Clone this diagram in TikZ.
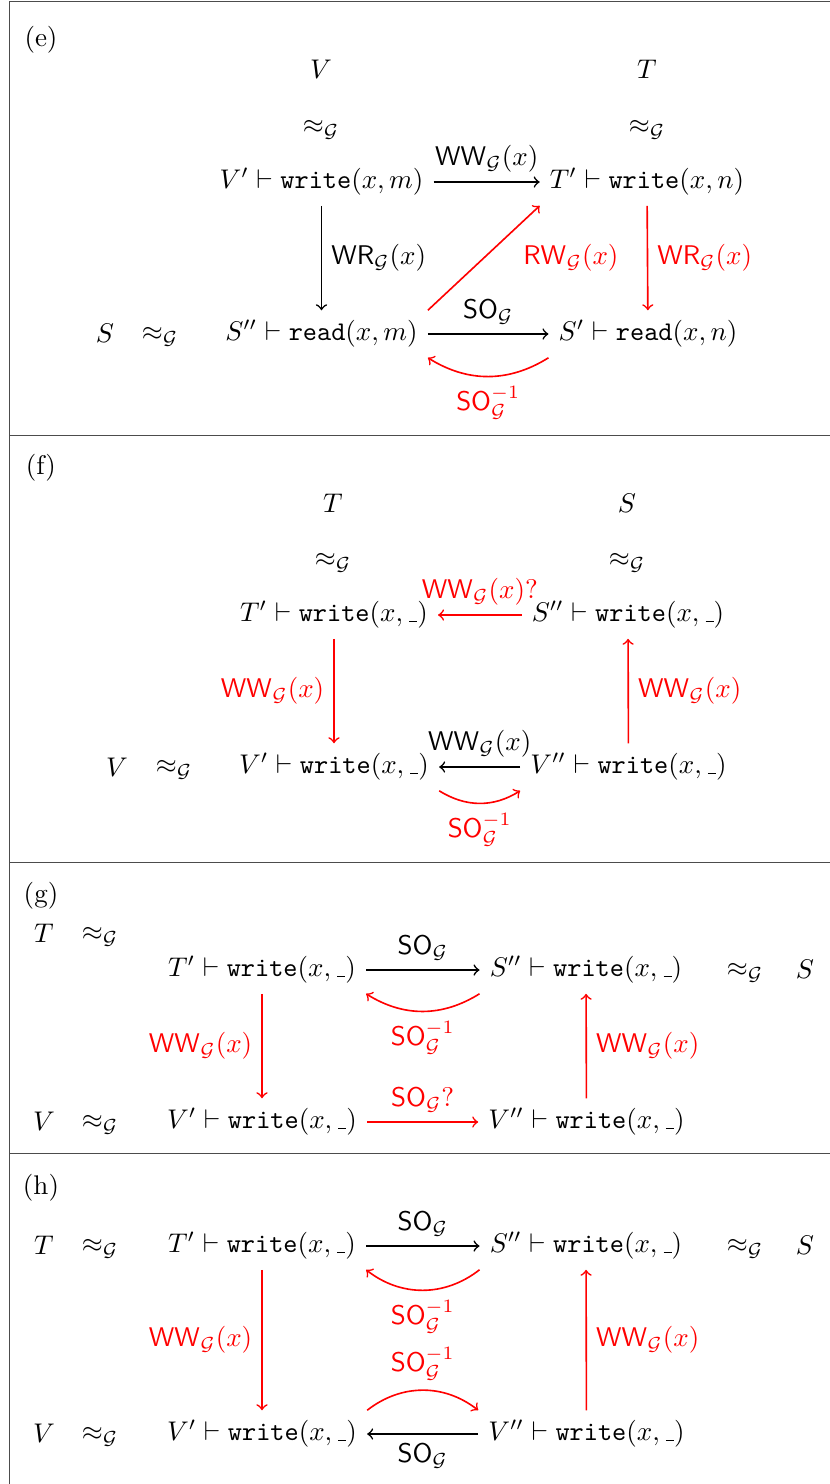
\documentclass[tikz,border=0pt]{standalone}
\usepackage{amsmath,amssymb}
\newcommand{\cG}{\mathcal{G}}
\newcommand{\mWW}{\mathsf{WW}_{\cG}(x)}
\newcommand{\mWR}{\mathsf{WR}_{\cG}(x)}
\newcommand{\mRW}{\mathsf{RW}_{\cG}(x)}
\newcommand{\mSO}{\mathsf{SO}_{\cG}}
\newcommand{\mSOi}{\mathsf{SO}_{\cG}^{-1}}
\newcommand{\us}{\mbox{\kern.06em\vbox{\hrule width.3em}}}
\newcommand{\wrt}[2]{#1\vdash\texttt{write}(x,#2)}
\newcommand{\rdt}[2]{#1\vdash\texttt{read}(x,#2)}
\tikzset{
  cell/.style={inner sep=3.6pt, text height=7.5pt, text depth=2.5pt},
  lbl/.style={inner sep=3.33pt},
  arr/.style={->, line width=0.6pt},
  rarr/.style={arr, red},
  frame/.style={line width=0.45pt, black!70},
}
\begin{document}
\begin{tikzpicture}[x=0.37037pt,y=-0.37037pt]
\useasboundingbox (0,0) rectangle (830,1484);
% frame
\draw[frame] (9.5,1484) -- (9.5,1.5) -- (830,1.5);
\draw[frame] (9.5,435.5) -- (830,435.5);
\draw[frame] (9.5,862.5) -- (830,862.5);
\draw[frame] (9.5,1153.5) -- (830,1153.5);

% ---------- (e)
\node (eLab) at (41,40) {(e)};
\node[cell] (eV) at (321,71.5) {$V$};
\node[cell] (eT) at (647,71.5) {$T$};
\node[cell] (eVa) at (321,127) {$\approx_{\cG}$};
\node[cell] (eTa) at (647,127) {$\approx_{\cG}$};
\node[cell] (eVp) at (321.5,182) {$\wrt{V'}{m}$};
\node[cell] (eTp) at (647,182) {$\wrt{T'}{n}$};
\node[cell] (eS) at (105,336) {$S$};
\node[cell] (eSa) at (160,334) {$\approx_{\cG}$};
\node[cell] (eSpp) at (321.5,334) {$\rdt{S''}{m}$};
\node[cell] (eSp) at (648,334) {$\rdt{S'}{n}$};
\draw[arr] (eVp) -- node[lbl,above]{$\mWW$} (eTp);
\draw[arr] (eVp) -- node[lbl,right]{$\mWR$} (eSpp);
\draw[rarr] (eSpp.north east) -- node[lbl,right=11pt]{$\mRW$} (eTp.south west);
\draw[rarr] (eTp) -- node[lbl,right]{$\mWR$} (eSp);
\draw[arr] (eSpp) -- node[lbl,above]{$\mSO$} (eSp);
\draw[rarr] (eSp.south west) to[bend left=32] node[lbl,below]{$\mSOi$} (eSpp.south east);

% ---------- (f)
\node (fLab) at (41,468) {(f)};
\node[cell] (fT) at (333,505.5) {$T$};
\node[cell] (fS) at (627,505.5) {$S$};
\node[cell] (fTa) at (333,560) {$\approx_{\cG}$};
\node[cell] (fSa) at (627,560) {$\approx_{\cG}$};
\node[cell] (fTp) at (334,615) {$\wrt{T'}{\us}$};
\node[cell] (fSpp) at (628,615) {$\wrt{S''}{\us}$};
\node[cell] (fV) at (117,770) {$V$};
\node[cell] (fVa) at (174,767) {$\approx_{\cG}$};
\node[cell] (fVp) at (334,767) {$\wrt{V'}{\us}$};
\node[cell] (fVpp) at (628.5,767) {$\wrt{V''}{\us}$};
\draw[rarr] (fSpp) -- node[lbl,above]{$\mWW?$} (fTp);
\draw[rarr] (fTp) -- node[lbl,left]{$\mWW$} (fVp);
\draw[rarr] (fVpp) -- node[lbl,right]{$\mWW$} (fSpp);
\draw[arr] (fVpp) -- node[lbl,above]{$\mWW$} (fVp);
\draw[rarr] (fVp.south east) to[bend right=32] node[lbl,below]{$\mSOi$} (fVpp.south west);

% ---------- (g)
\node (gLab) at (41,896) {(g)};
\node[cell] (gT) at (44,936) {$T$};
\node[cell] (gTa) at (100,934) {$\approx_{\cG}$};
\node[cell] (gTp) at (262,970) {$\wrt{T'}{\us}$};
\node[cell] (gSpp) at (586,970) {$\wrt{S''}{\us}$};
\node[cell] (gSa) at (745,970) {$\approx_{\cG}$};
\node[cell] (gS) at (805,972) {$S$};
\node[cell] (gV) at (44,1124) {$V$};
\node[cell] (gVa) at (100,1122) {$\approx_{\cG}$};
\node[cell] (gVp) at (262,1122) {$\wrt{V'}{\us}$};
\node[cell] (gVpp) at (586.5,1122) {$\wrt{V''}{\us}$};
\draw[arr] (gTp) -- node[lbl,above]{$\mSO$} (gSpp);
\draw[rarr] (gSpp.south west) to[bend left=32] node[lbl,below]{$\mSOi$} (gTp.south east);
\draw[rarr] (gTp) -- node[lbl,left]{$\mWW$} (gVp);
\draw[rarr] (gVpp) -- node[lbl,right]{$\mWW$} (gSpp);
\draw[rarr] (gVp) -- node[lbl,above]{$\mSO?$} (gVpp);

% ---------- (h)
\node (hLab) at (41,1188) {(h)};
\node[cell] (hT) at (44,1248) {$T$};
\node[cell] (hTa) at (100,1246) {$\approx_{\cG}$};
\node[cell] (hTp) at (262,1246) {$\wrt{T'}{\us}$};
\node[cell] (hSpp) at (586,1246) {$\wrt{S''}{\us}$};
\node[cell] (hSa) at (745,1246) {$\approx_{\cG}$};
\node[cell] (hS) at (805,1248) {$S$};
\node[cell] (hV) at (44,1436) {$V$};
\node[cell] (hVa) at (100,1434) {$\approx_{\cG}$};
\node[cell] (hVp) at (262,1434) {$\wrt{V'}{\us}$};
\node[cell] (hVpp) at (586.5,1434) {$\wrt{V''}{\us}$};
\draw[arr] (hTp) -- node[lbl,above]{$\mSO$} (hSpp);
\draw[rarr] (hSpp.south west) to[bend left=38] node[lbl,below]{$\mSOi$} (hTp.south east);
\draw[rarr] (hTp) -- node[lbl,left]{$\mWW$} (hVp);
\draw[rarr] (hVpp) -- node[lbl,right]{$\mWW$} (hSpp);
\draw[rarr] (hVp.north east) to[bend left=38] node[lbl,above]{$\mSOi$} (hVpp.north west);
\draw[arr] (hVpp) -- node[lbl,below]{$\mSO$} (hVp);
\end{tikzpicture}
\end{document}
